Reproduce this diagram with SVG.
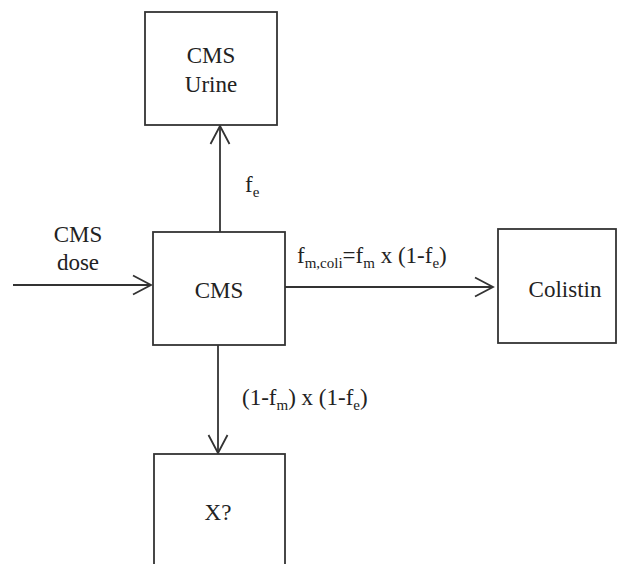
<svg xmlns="http://www.w3.org/2000/svg" width="620" height="564" viewBox="0 0 620 564">
<style>
.box{fill:#fff;stroke:#333;stroke-width:1.8}
.ln{fill:none;stroke:#333;stroke-width:1.8}
</style>
<defs>
<marker id="ah" markerUnits="userSpaceOnUse" markerWidth="24" markerHeight="24" viewBox="-20 -12 24 24" refX="0" refY="0" orient="auto">
<path d="M-18,-9.5 L0,0 L-18,9.5" fill="none" stroke="#333" stroke-width="1.8"/>
</marker>
</defs>
<rect width="620" height="564" fill="#fff"/>
<g id="connectors">
<line class="ln" x1="13" y1="285" x2="151" y2="285" marker-end="url(#ah)"/>
<line class="ln" x1="220" y1="232" x2="220" y2="126" marker-end="url(#ah)"/>
<line class="ln" x1="285" y1="287" x2="493" y2="287" marker-end="url(#ah)"/>
<line class="ln" x1="218" y1="345" x2="218" y2="453" marker-end="url(#ah)"/>
</g>
<g id="urine">
<rect class="box" x="145" y="12" width="132" height="113"/>
<text font-family="Times New Roman, Liberation Serif, DejaVu Serif, serif" font-size="23" fill="#222" text-anchor="middle" x="211" y="63">CMS</text>
<text font-family="Times New Roman, Liberation Serif, DejaVu Serif, serif" font-size="23" fill="#222" text-anchor="middle" x="211" y="92">Urine</text>
</g>
<g id="cms">
<rect class="box" x="153" y="232" width="132" height="113"/>
<text font-family="Times New Roman, Liberation Serif, DejaVu Serif, serif" font-size="23" fill="#222" text-anchor="middle" x="219" y="298">CMS</text>
</g>
<g id="colistin">
<rect class="box" x="498" y="229" width="118" height="114"/>
<text font-family="Times New Roman, Liberation Serif, DejaVu Serif, serif" font-size="23" fill="#222" text-anchor="middle" x="565" y="297">Colistin</text>
</g>
<g id="x">
<rect class="box" x="154" y="454" width="131" height="130"/>
<text font-family="Times New Roman, Liberation Serif, DejaVu Serif, serif" font-size="23" fill="#222" text-anchor="middle" x="218" y="520">X?</text>
</g>
<g id="labels">
<text font-family="Times New Roman, Liberation Serif, DejaVu Serif, serif" font-size="23" fill="#222" text-anchor="middle" x="78" y="242">CMS</text>
<text font-family="Times New Roman, Liberation Serif, DejaVu Serif, serif" font-size="23" fill="#222" text-anchor="middle" x="78" y="270">dose</text>
<text font-family="Times New Roman, Liberation Serif, DejaVu Serif, serif" font-size="23" fill="#222" x="245" y="192">f<tspan font-size="15" dy="5">e</tspan></text>
<text font-family="Times New Roman, Liberation Serif, DejaVu Serif, serif" font-size="23" fill="#222" x="297" y="263">f<tspan font-size="15" dy="5">m,coli</tspan><tspan dy="-5">=f</tspan><tspan font-size="15" dy="5">m</tspan><tspan dy="-5"> x (1-f</tspan><tspan font-size="15" dy="5">e</tspan><tspan dy="-5">)</tspan></text>
<text font-family="Times New Roman, Liberation Serif, DejaVu Serif, serif" font-size="23" fill="#222" x="242" y="405">(1-f<tspan font-size="15" dy="5">m</tspan><tspan dy="-5">) x (1-f</tspan><tspan font-size="15" dy="5">e</tspan><tspan dy="-5">)</tspan></text>
</g>
</svg>
